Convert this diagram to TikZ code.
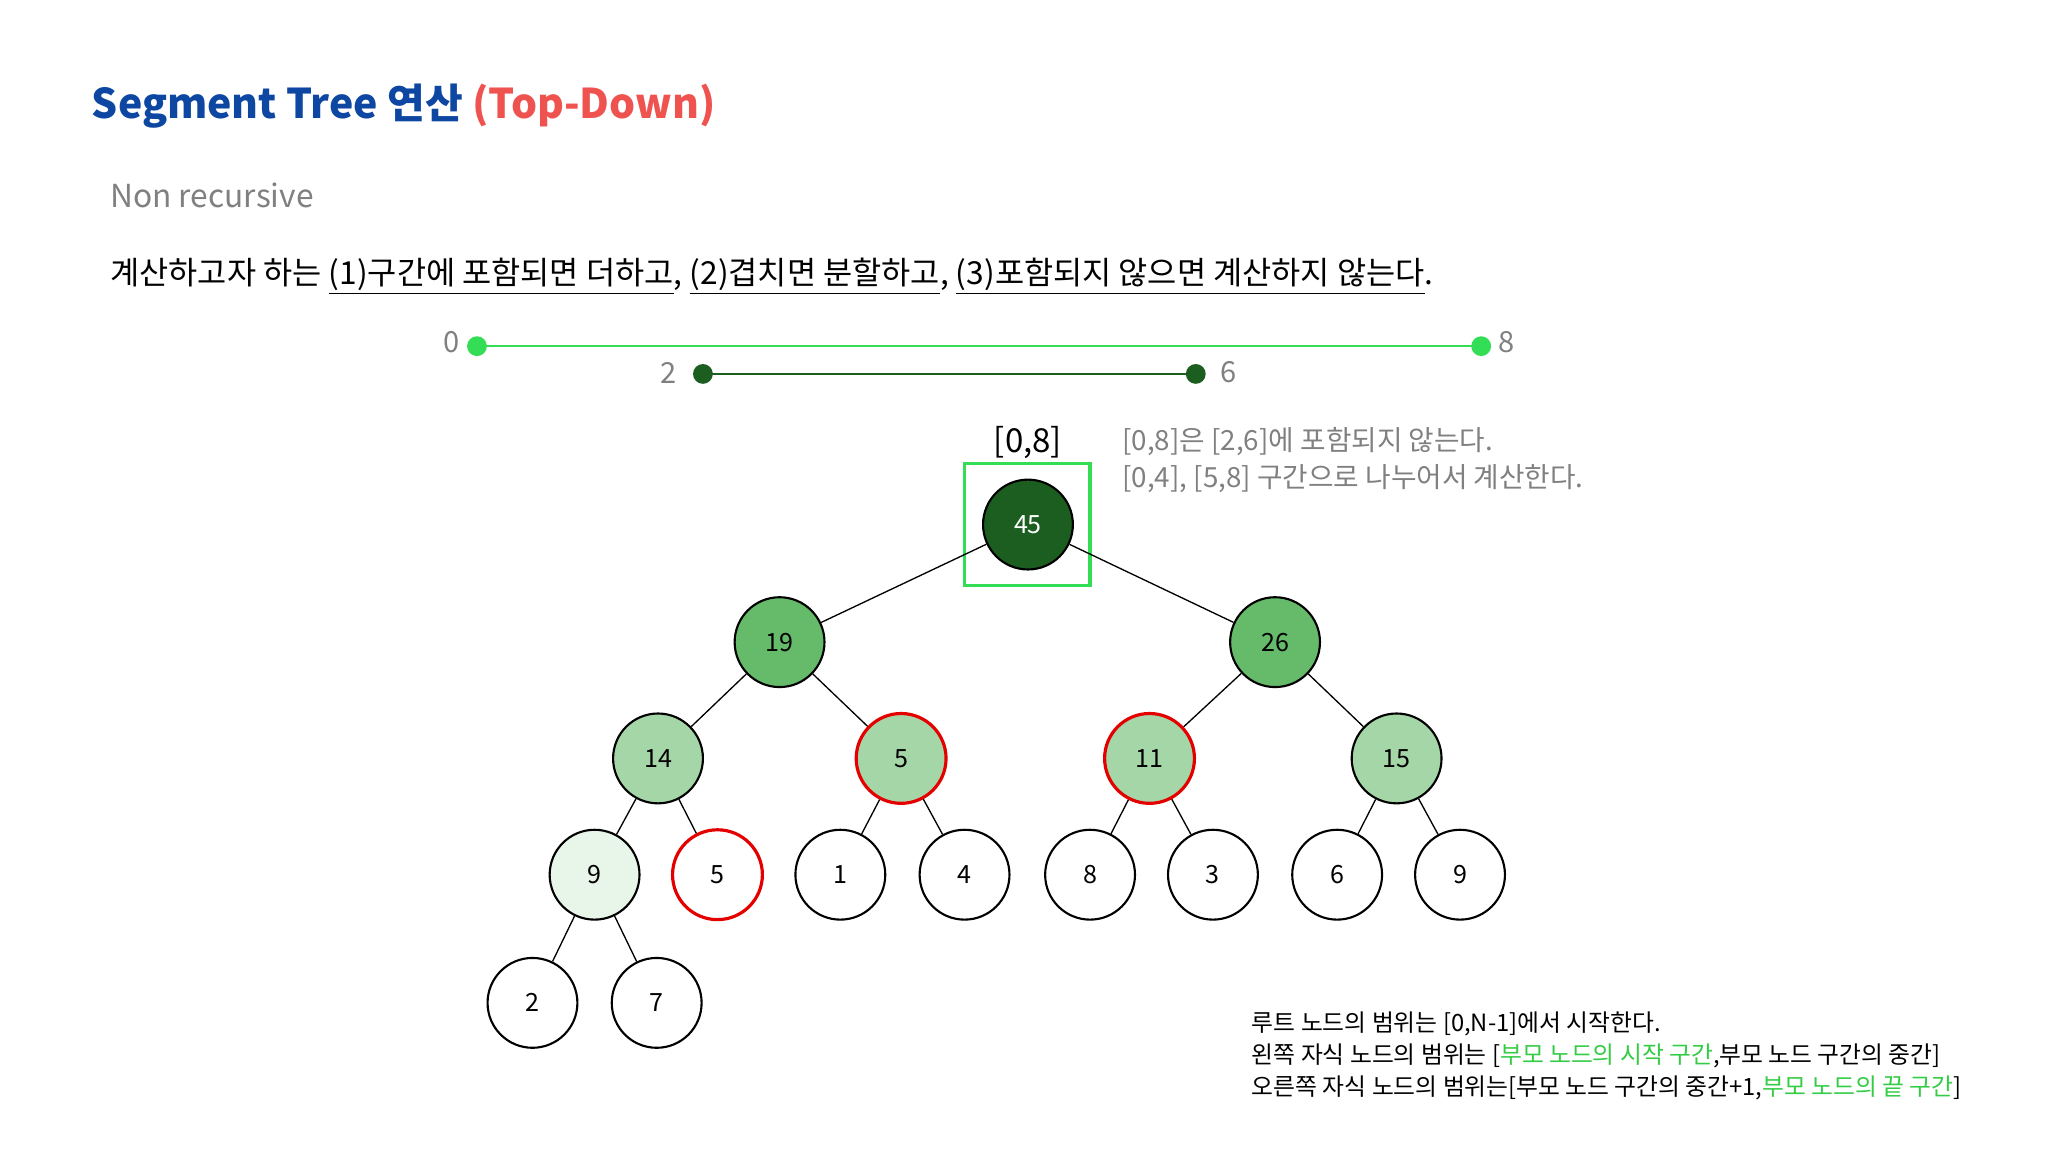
\documentclass[tikz,border=0pt]{standalone}
\usepackage{fontspec}
\setmainfont{Noto Sans CJK KR}
\begin{document}
\begin{tikzpicture}[x=1pt,y=-1pt,
  tn/.style={circle,draw=black,line width=1.6pt,minimum size=68pt,inner sep=0pt,font=\fontsize{19}{19}\selectfont},
  rd/.style={draw=red!90!black,line width=2.4pt},
  e/.style={line width=1pt}]
\definecolor{dk}{HTML}{1B5E20}\definecolor{md}{HTML}{66BB6A}\definecolor{lt}{HTML}{A5D6A7}\definecolor{vl}{HTML}{E8F5E9}
\definecolor{br}{HTML}{33DD55}\definecolor{gt}{HTML}{33CC44}\definecolor{tb}{HTML}{0D47A1}\definecolor{tr}{HTML}{EF5350}
\useasboundingbox (0,0) rectangle (1550,872);
\node[anchor=west,font=\fontsize{31}{31}\selectfont\bfseries] (title) at (66,80) {\textcolor{tb}{Segment Tree 연산} \textcolor{tr}{(Top-Down)}};
\node[anchor=west,text=gray,font=\fontsize{24}{24}\selectfont] (sub) at (80,148) {Non recursive};
\node[anchor=west,font=\fontsize{24}{24}\selectfont] (main) at (80,209) {계산하고자 하는 \underline{(1)구간에 포함되면 더하고}, \underline{(2)겹치면 분할하고}, \underline{(3)포함되지 않으면 계산하지 않는다}.};
% range lines
\coordinate (a0) at (361,262); \coordinate (a8) at (1121,262);
\draw[br,line width=1.5pt] (a0)--(a8);
\fill[br] (a0) circle (7.5) (a8) circle (7.5);
\node[text=gray,font=\fontsize{22}{22}\selectfont] (l0) at (342,259) {0};
\node[text=gray,font=\fontsize{22}{22}\selectfont] (l8) at (1140,259) {8};
\coordinate (b2) at (532,283); \coordinate (b6) at (905,283);
\draw[dk,line width=1.5pt] (b2)--(b6);
\fill[dk] (b2) circle (7.5) (b6) circle (7.5);
\node[text=gray,font=\fontsize{22}{22}\selectfont] (l2) at (506,282) {2};
\node[text=gray,font=\fontsize{22}{22}\selectfont] (l6) at (930,282) {6};
% labels
\node[font=\fontsize{25}{25}\selectfont] (r08) at (778,335) {[0,8]};
\node[anchor=west,text=gray,align=left,font=\fontsize{21}{28}\selectfont] (note) at (846,348) {{}[0,8]은 [2,6]에 포함되지 않는다.\\\relax{}[0,4], [5,8] 구간으로 나누어서 계산한다.};
% nodes
\node[tn,fill=dk,text=white] (n1) at (778,397) {45};
\node[draw=br,line width=2.5pt,minimum width=95pt,minimum height=92pt] (box) at (777.5,397) {};
\node[tn,fill=md] (n2) at (590,486) {19};
\node[tn,fill=md] (n3) at (965,486) {26};
\node[tn,fill=lt] (n4) at (498,574) {14};
\node[tn,fill=lt,rd] (n5) at (682,574) {5};
\node[tn,fill=lt,rd] (n6) at (870,574) {11};
\node[tn,fill=lt] (n7) at (1057,574) {15};
\node[tn,fill=vl] (n8) at (450,662) {9};
\node[tn,fill=white,rd] (n9) at (543,662) {5};
\node[tn] (n10) at (636,662) {1};
\node[tn] (n11) at (730,662) {4};
\node[tn] (n12) at (825,662) {8};
\node[tn] (n13) at (918,662) {3};
\node[tn] (n14) at (1012,662) {6};
\node[tn] (n15) at (1105,662) {9};
\node[tn] (n16) at (403,759) {2};
\node[tn] (n17) at (497,759) {7};
\foreach \a/\b in {n1/n2,n1/n3,n2/n4,n2/n5,n3/n6,n3/n7,n4/n8,n4/n9,n5/n10,n5/n11,n6/n12,n6/n13,n7/n14,n7/n15,n8/n16,n8/n17}
  \draw[e] (\a)--(\b);
\node[anchor=west,align=left,font=\fontsize{18}{24}\selectfont] (rules) at (944,799) {루트 노드의 범위는 [0,N-1]에서 시작한다.\\\relax 왼쪽 자식 노드의 범위는 [\textcolor{gt}{부모 노드의 시작 구간},부모 노드 구간의 중간]\\\relax 오른쪽 자식 노드의 범위는[부모 노드 구간의 중간+1,\textcolor{gt}{부모 노드의 끝 구간}]};
\end{tikzpicture}
\end{document}
